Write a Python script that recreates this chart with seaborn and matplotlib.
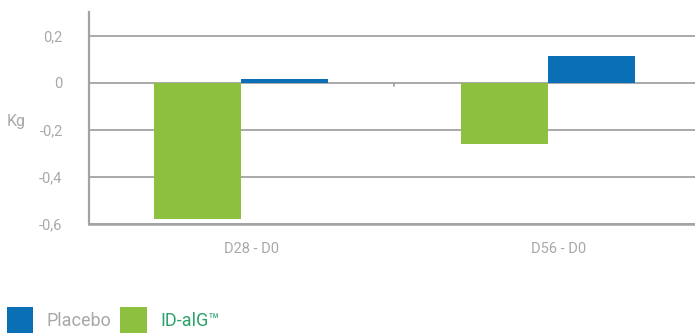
import matplotlib
matplotlib.use("Agg")
import matplotlib.pyplot as plt
import matplotlib.transforms as mtransforms
from matplotlib.patches import Patch
import seaborn as sns
import pandas as pd

categories = ["D28 - D0", "D56 - D0"]
series_names = ["ID-alG", "Placebo"]
idalg_values = [-0.58, -0.26]
placebo_values = [0.017, 0.115]
y_ticks = [0.2, 0, -0.2, -0.4, -0.6]
y_tick_labels = ["0,2", "0", "-0,2", "-0,4", "-0,6"]

GREEN = "#8dc03f"
BLUE = "#0b6fb5"
GRAY = "#a3a3a3"
TEXT = "#a8a8a8"

df = pd.DataFrame({
    "cat": categories * 2,
    "group": [series_names[0]] * 2 + [series_names[1]] * 2,
    "val": idalg_values + placebo_values,
})

sns.set_style("white")
plt.rcParams["font.family"] = ["Roboto", "DejaVu Sans"]

fig = plt.figure(figsize=(6.95, 3.33), dpi=100)
ax = fig.add_axes([89 / 695, 1 - 224 / 333, 1 - 89 / 695, (224 - 12) / 333])

sns.barplot(data=df, x="cat", y="val", hue="group", order=categories,
            hue_order=series_names, palette=[GREEN, BLUE], width=0.566,
            saturation=1, ax=ax, legend=False, zorder=3, linewidth=0)

ax.set_ylim(-0.6, 0.3)
ax.set_xlim(-0.495, 1.48)
ax.set_yticks(y_ticks)
ax.set_yticklabels(y_tick_labels)
ax.yaxis.grid(True, color=GRAY, linewidth=1.3, zorder=1)
ax.set_axisbelow(True)
ax.tick_params(axis="y", direction="out", length=7, width=1.3, color=GRAY,
               labelcolor=TEXT, labelsize=10.5, pad=12)
ax.tick_params(axis="x", length=0, labelcolor=TEXT, labelsize=10.5, pad=13)
offset = mtransforms.ScaledTranslation(11 / 100, 0, fig.dpi_scale_trans)
for lbl in ax.get_xticklabels():
    lbl.set_transform(lbl.get_transform() + offset)

for s in ["top", "right"]:
    ax.spines[s].set_visible(False)
ax.spines["left"].set_color(GRAY)
ax.spines["left"].set_linewidth(1.6)
ax.spines["bottom"].set_color(GRAY)
ax.spines["bottom"].set_linewidth(1.8)

# small separator tick on the zero line
ax.plot([0.5, 0.5], [0, -0.015], color=GRAY, linewidth=1.3, zorder=2)

ax.set_xlabel("")
ax.set_ylabel("Kg", rotation=0, color=TEXT, fontsize=11.5, labelpad=0)
ax.yaxis.set_label_coords(-(89 - 16) / 606, 1 - (129 - 12) / 212)

handles = [Patch(facecolor=BLUE, edgecolor="none"), Patch(facecolor=GREEN, edgecolor="none")]
leg = fig.legend(handles, ["Placebo", "ID-alG\u2122"], loc="lower left",
                 bbox_to_anchor=(7 / 695, 0 / 333), ncol=2, frameon=False,
                 fontsize=13, handlelength=1.45, handleheight=1.84,
                 handletextpad=0.75, columnspacing=0.5, borderpad=0,
                 borderaxespad=0)
texts = leg.get_texts()
texts[0].set_color(TEXT)
texts[1].set_color("#2aa36b")

fig.savefig("out.png", dpi=100)
